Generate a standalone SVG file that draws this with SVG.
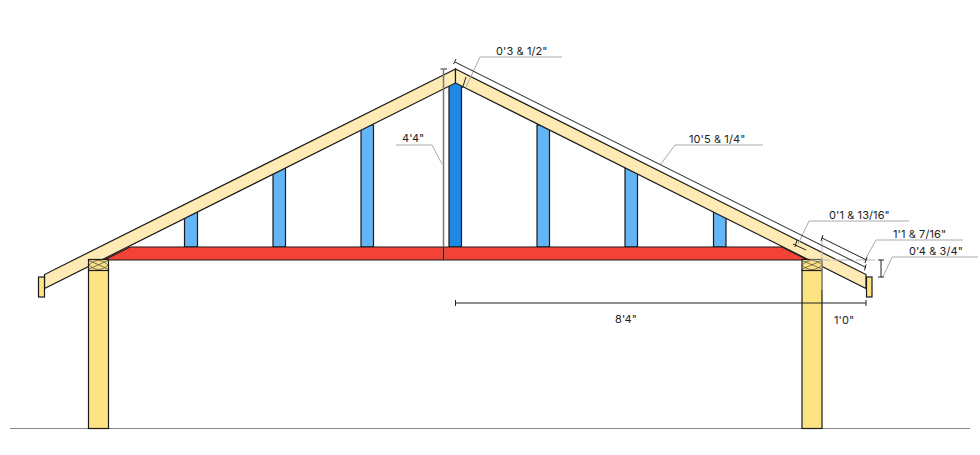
<svg xmlns="http://www.w3.org/2000/svg" width="980" height="455" viewBox="0 0 980 455">
<style>
.w{stroke:#1a1a1a;stroke-width:1.2;stroke-linejoin:miter}
.raf{fill:#fdeab5}
.post{fill:#fee383}
.stud{fill:#64b5f6}
.dim{fill:none;stroke:#222;stroke-width:1}
.lead{fill:none;stroke:#aaa;stroke-width:1}
.x{fill:none;stroke:#444;stroke-width:.7}
text{font-family:"Inter","Liberation Sans",sans-serif;font-size:11px;fill:#222;letter-spacing:.1px}
</style>
<rect width="980" height="455" fill="#fff"/>
<g id="ground"><line x1="10" y1="428.500" x2="970" y2="428.500" stroke="#888" stroke-width="1.2"/></g>
<g id="stud-1"><rect class="w stud" x="184.500" y="212" width="13" height="35"/></g>
<g id="stud-2"><rect class="w stud" x="273" y="168" width="12.500" height="79"/></g>
<g id="stud-3"><rect class="w stud" x="361" y="125" width="12.500" height="122"/></g>
<g id="stud-center"><rect class="w" fill="#1e88e5" x="449" y="80" width="12.500" height="167"/></g>
<g id="stud-4"><rect class="w stud" x="537" y="125" width="12.500" height="122"/></g>
<g id="stud-5"><rect class="w stud" x="625" y="168" width="12.500" height="79"/></g>
<g id="stud-6"><rect class="w stud" x="713.500" y="212" width="12.500" height="35"/></g>
<g id="tie-beam"><path class="w" fill="#f44336" d="M104 260L130 247H782L808 260Z"/></g>
<g id="rafter-left"><path class="w raf" d="M455.500 69L44.500 274.500V288.500L455.500 83Z"/></g>
<g id="rafter-right"><path class="w raf" d="M455.500 69L866 274.500V288.500L465.500 88L455.500 83Z"/></g>
<g id="post-left">
<rect class="w post" x="88.500" y="270" width="20" height="158.500"/>
<g id="plate-left"><rect class="w post" x="88.500" y="259.500" width="20" height="11"/><path class="x" d="M89 260.500L108 269M108 260.500L89 269M89 265C95 259 102 259 108 265C102 271 95 271 89 265"/></g>
</g>
<g id="post-right">
<rect class="w post" x="802" y="270" width="20" height="158.500"/>
<g id="plate-right"><rect class="w post" x="802" y="259.500" width="20" height="11"/><path class="x" d="M802 260.500L822 269M822 260.500L802 269M802 265C808 259 816 259 822 265C816 271 808 271 802 265"/></g>
</g>
<g id="fascia-left"><rect class="w post" x="38.500" y="277" width="6" height="20"/></g>
<g id="fascia-right"><rect class="w post" x="866.500" y="277" width="5.500" height="20"/></g>
<g id="connectors">
<path class="lead" d="M466 87L480 57H562"/>
<path class="lead" d="M660 165L675 145H763"/>
<path class="lead" d="M442 164L432 145H396"/>
<path class="lead" d="M798 244L809 221H909"/>
<path class="lead" d="M866 258L876 240H963"/>
<path class="lead" d="M883 277L892 257H978"/>
<line x1="822" y1="236" x2="822" y2="290" stroke="#bbb" stroke-width="1"/>
<line x1="810" y1="260" x2="875" y2="260" stroke="#bbb" stroke-width="1" stroke-dasharray="20 3"/>
<path d="M443.500 70V260" stroke="#777" stroke-width="1.500" fill="none"/>
<path class="dim" d="M440.500 69H447M443.500 247V260"/>
<path class="dim" d="M455 62L866 267.500"/>
<path class="dim" d="M456 59L453.500 64"/>
<path class="dim" d="M866 264.500L864.500 270.500"/>
<path class="dim" d="M466 77L462.500 88"/>
<path class="dim" d="M793 244L806 250M797 240L795 247"/>
<path class="dim" d="M822 238L866.500 260M823 235L821 241M867 257L865 263"/>
<path class="dim" d="M881 260V277M878 260H884M878 277H884"/>
<path class="dim" d="M455.500 303H866M455.500 300V306M866 300V306"/>
</g>
<g id="labels">
<text x="496" y="55">0'3 &amp; 1/2"</text>
<text x="689" y="143">10'5 &amp; 1/4"</text>
<text x="402" y="142">4'4"</text>
<text x="829" y="219">0'1 &amp; 13/16"</text>
<text x="893" y="238">1'1 &amp; 7/16"</text>
<text x="909" y="255">0'4 &amp; 3/4"</text>
<text x="615" y="323">8'4"</text>
<text x="834" y="324">1'0"</text>
</g>
</svg>
